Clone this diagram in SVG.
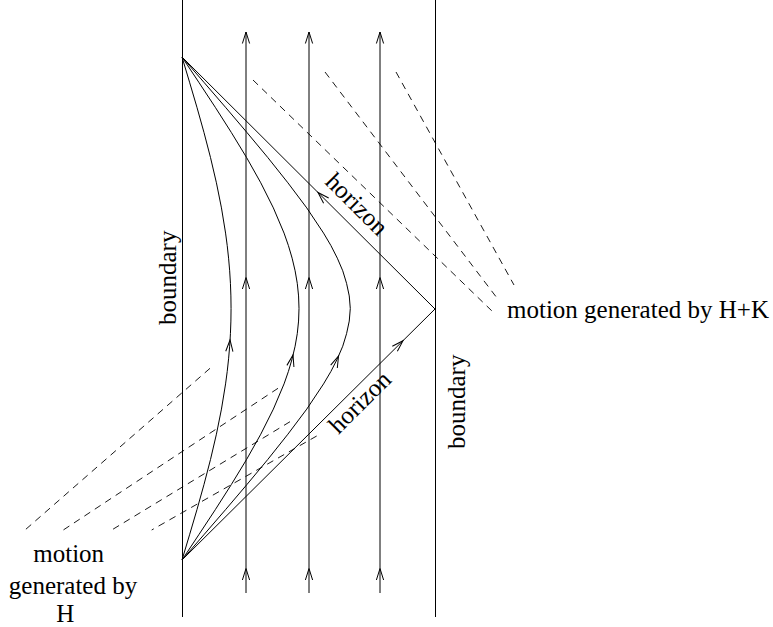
<svg xmlns="http://www.w3.org/2000/svg" width="773" height="627" viewBox="0 0 773 627">
<defs>
<marker id="ah" viewBox="-12 -5 14 10" markerWidth="14" markerHeight="10" refX="0" refY="0" orient="auto" markerUnits="userSpaceOnUse">
<path d="M-11.5,-3.6 L0,0 L-11.5,3.6" fill="none" stroke="#000" stroke-width="1"/>
</marker>
<style>
.ln{fill:none;stroke:#000;stroke-width:1;stroke-linejoin:round}
.fl{fill:none;stroke:#000;stroke-width:1}
.ds{fill:none;stroke:#000;stroke-width:0.9;stroke-dasharray:7 5.5}
.ar{marker-end:url(#ah)}
.t{font-family:"Liberation Serif","Times New Roman",serif;font-size:25px;fill:#000}
</style>
</defs>
<rect width="773" height="627" fill="#fff"/>
<g id="boundaries">
<path class="ln" d="M182.5,0 V617"/>
<path class="ln" d="M435.5,0 V617"/>
</g>
<g id="flow-lines">
<path class="fl ar" d="M246,593 V568.5"/><path class="fl ar" d="M246,568.5 V277.5"/><path class="fl ar" d="M246,277.5 V32"/>
<path class="fl ar" d="M309,593 V568.5"/><path class="fl ar" d="M309,568.5 V277.5"/><path class="fl ar" d="M309,277.5 V32"/>
<path class="fl ar" d="M380,593 V568.5"/><path class="fl ar" d="M380,568.5 V277.5"/><path class="fl ar" d="M380,277.5 V32"/>
</g>
<g id="orbits">
<path class="ln ar" d="M182,560 L189.55,534.8 L196.94,509.7 L203.99,484.5 L210.53,459.4 L216.41,434.2 L221.46,409.1 L225.57,383.9 L227.22,371.4 L228.58,358.8 L229.66,346.22 L230.04,340"/>
<path class="ln" d="M230.04,340 L230.43,333.65 L230.9,321.07 L231.06,308.5 L230.9,295.93 L230.43,283.35 L229.66,270.78 L228.58,258.2 L227.22,245.6 L225.57,233.1 L221.46,207.9 L216.41,182.8 L210.53,157.6 L203.99,132.5 L196.94,107.3 L189.55,82.2 L182,57"/>
<path class="ln ar" d="M182,560 L198.76,534.8 L215.29,509.7 L231.35,484.5 L246.61,459.4 L260.78,434.2 L273.37,409.1 L284.06,383.9 L288.42,371.4 L292.14,358.8 L293.03,355"/>
<path class="ln" d="M293.03,355 L295.1,346.22 L297.28,333.65 L298.57,321.07 L299,308.5 L298.57,295.93 L297.28,283.35 L295.1,270.78 L292.14,258.2 L288.42,245.6 L284.06,233.1 L273.37,207.9 L260.78,182.8 L246.61,157.6 L231.35,132.5 L215.29,107.3 L198.76,82.2 L182,57"/>
<path class="ln ar" d="M182,560 L203.83,534.8 L225.53,509.7 L246.95,484.5 L267.85,459.4 L287.9,434.2 L306.76,409.1 L323.55,383.9 L330.94,371.4 L337.33,358.8 L338.53,356"/>
<path class="ln" d="M338.53,356 L342.74,346.22 L346.57,333.65 L349.26,321.07 L350.29,308.5 L349.26,295.93 L346.57,283.35 L342.74,270.78 L337.33,258.2 L330.94,245.6 L323.55,233.1 L306.76,207.9 L287.9,182.8 L267.85,157.6 L246.95,132.5 L225.53,107.3 L203.83,82.2 L182,57"/>
</g>
<g id="horizons">
<path class="ln" d="M182,57 L318,192.5"/>
<path class="ln ar" d="M435,309 L318,192.5"/>
<path class="ln ar" d="M182,560 L403,340.7"/>
<path class="ln" d="M403,340.7 L435,309"/>
</g>
<g id="pointers">
<path class="ds" d="M253,80 L493,312"/>
<path class="ds" d="M325,72 L497,298"/>
<path class="ds" d="M396,72 L514,285"/>
<path class="ds" d="M210,368.3 L25,530"/>
<path class="ds" d="M278,388.3 L63.3,530"/>
<path class="ds" d="M290,421.7 L111.7,530"/>
<path class="ds" d="M316.7,436 L151.7,530"/>
</g>
<g id="labels">
<text class="t" transform="translate(176,325) rotate(-90)">boundary</text>
<text class="t" transform="translate(465,449) rotate(-90)">boundary</text>
<text class="t" text-anchor="middle" transform="translate(351,210) rotate(44.9)">horizon</text>
<text class="t" text-anchor="middle" transform="translate(365.5,408) rotate(-44.8)">horizon</text>
<text class="t" x="507" y="318">motion generated by H+K</text>
<text class="t" x="68.7" y="562" text-anchor="middle">motion</text>
<text class="t" x="73" y="594" text-anchor="middle">generated by</text>
<text class="t" x="65.3" y="622" text-anchor="middle">H</text>
</g>
</svg>
